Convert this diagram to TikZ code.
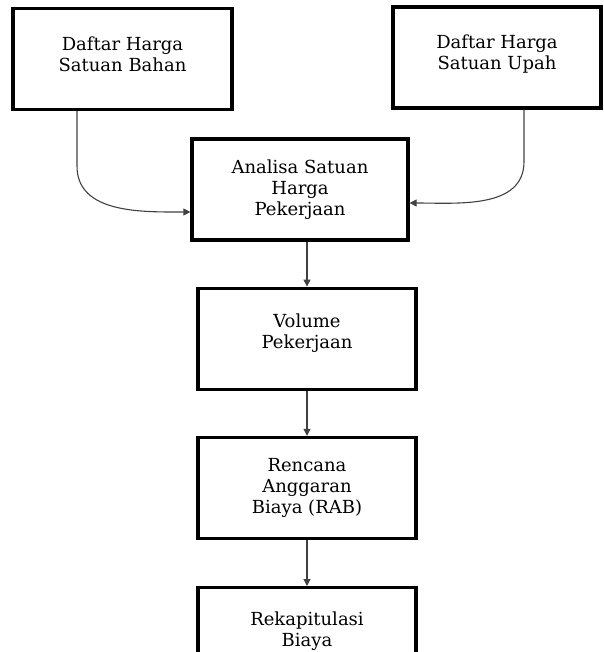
\documentclass[tikz,border=0pt]{standalone}
\usepackage{fontspec}
\setmainfont{DejaVu Serif}
\usetikzlibrary{arrows.meta,positioning}
\tikzset{
  box/.style={rectangle,draw,line width=3.2pt,minimum width=218pt,minimum height=101pt,inner sep=0pt,align=center,font=\fontsize{18}{21}\selectfont},
  raised/.style={text depth=#1},
  arr/.style={-{Triangle[length=7pt,width=7pt]},line width=1.1pt,draw=black!75},
}
\begin{document}
\begin{tikzpicture}[x=1pt,y=1pt]
  \useasboundingbox (0,0) rectangle (603,-652);
  \clip (0,0) rectangle (603,-652);
  \node[box,minimum width=219pt,raised=10pt] (bahan) at (122.5,-59) {Daftar Harga\\Satuan Bahan};
  \node[box,minimum width=208pt,raised=10pt] (upah) at (497,-57.5) {Daftar Harga\\Satuan Upah};
  \node[box,minimum width=216pt] (analisa) at (300,-189.5) {Analisa Satuan\\Harga\\Pekerjaan};
  \node[box,below=45pt of analisa,xshift=7pt,raised=16pt] (volume) {Volume\\Pekerjaan};
  \node[box,below=45pt of volume] (rab) {Rencana\\Anggaran\\Biaya (RAB)};
  \node[box,below=46pt of rab,raised=18pt] (rekap) {Rekapitulasi\\Biaya};
  % masukan harga ke analisa
  \draw[arr] ([xshift=-45.5pt]bahan.south) -- ++(0,-55) to[out=-90,in=180] ([yshift=-22.5pt]analisa.west);
  \draw[arr] ([xshift=27pt]upah.south) -- ++(0,-52) to[out=-90,in=0] ([yshift=-13.5pt]analisa.east);
  \draw[arr] (analisa.south -| volume.north) -- (volume.north);
  \draw[arr] (volume) -- (rab); \draw[arr] (rab) -- (rekap);
\end{tikzpicture}
\end{document}
